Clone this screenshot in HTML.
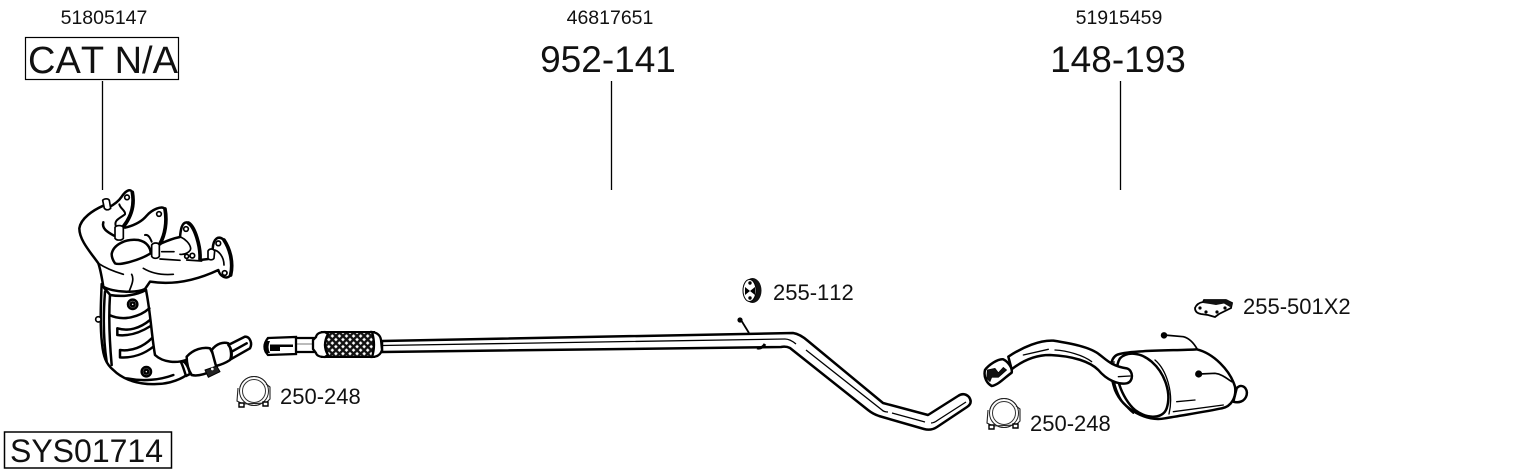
<!DOCTYPE html>
<html><head><meta charset="utf-8"><style>
html,body{margin:0;padding:0;background:#fff}
svg{display:block}
text{font-family:"Liberation Sans",sans-serif;fill:#111;font-kerning:none}
.z{fill:none;stroke:#000;stroke-width:7.500;stroke-linecap:round;stroke-linejoin:round}
.f{fill:#fff}
.t{font-size:22px}
.b{font-size:37px}
</style></head><body>
<svg width="1530" height="474" viewBox="0 0 1530 474" xmlns="http://www.w3.org/2000/svg">
<defs>
<pattern id="m" width="5" height="5" patternUnits="userSpaceOnUse" patternTransform="rotate(45)">
<rect width="5" height="5" fill="#111"/><rect x="1.300" y="1.300" width="2.600" height="2.600" fill="#fff"/>
</pattern>
<g id="clamp">
<circle cx="254" cy="391" r="14.500" fill="#fff" stroke="#222" stroke-width="1"/>
<path d="M238,388 L237,401 L243,404 L266,403 L270,399 L270,387 L266,384" fill="#fff" stroke="#222" stroke-width="1.100"/>
<circle cx="254" cy="391" r="14.500" fill="none" stroke="#222" stroke-width="1"/>
<circle cx="254" cy="391" r="11.500" fill="none" stroke="#333" stroke-width="1"/>
<path d="M239,403 h5 v4 h-5z M263,402 h5 v4 h-5z" fill="#fff" stroke="#000" stroke-width="1.400"/>
</g>
</defs>

<!-- labels -->
<text x="104" y="24" text-anchor="middle" style="font-size:19.500px">51805147</text>
<text x="610" y="24" text-anchor="middle" style="font-size:19.500px">46817651</text>
<text x="1119" y="24" text-anchor="middle" style="font-size:19.500px">51915459</text>
<rect x="25.500" y="37.500" width="153" height="42" fill="none" stroke="#000" stroke-width="1.200"/>
<text x="103" y="73" text-anchor="middle" style="font-size:38px">CAT N/A</text>
<text class="b" x="608" y="72" text-anchor="middle">952-141</text>
<text class="b" x="1118" y="72" text-anchor="middle">148-193</text>
<rect x="4.500" y="432" width="167" height="36" fill="none" stroke="#000" stroke-width="1.500"/>
<text x="86.500" y="462" text-anchor="middle" style="font-size:32px">SYS01714</text>
<path d="M102.500,81V190M611.500,81V190M1120.500,81V190" stroke="#000" stroke-width="1.300" fill="none"/>

<!-- catalyst -->
<g transform="translate(60,180) scale(.33333)" class="z">
<path class="f" d="M125,312 C122,380 120,440 126,490 C130,530 138,552 160,570 C190,600 240,615 290,612 C330,612 370,595 385,580 L378,540 C350,550 310,548 285,525 C275,470 272,400 258,330 Z"/>
<path d="M150,345 C190,352 230,345 258,330 M148,405 C190,425 240,410 268,385 M128,318 C140,335 148,340 150,345 M150,345 C145,420 150,500 155,555 M135,335 C130,400 130,480 140,545"/>
<path d="M172,445 C205,455 240,445 270,420 M172,465 C210,470 245,455 272,438 M172,445 L172,465"/>
<path d="M180,510 C215,515 250,500 275,475 M180,532 C220,535 255,520 280,500 M180,510 L180,532"/>
<circle class="f" cx="218" cy="373" r="14"/><circle cx="218" cy="373" r="6"/>
<circle class="f" cx="259" cy="575" r="14"/><circle cx="259" cy="575" r="6"/>
<circle class="f" cx="115" cy="418" r="8" style="stroke-width:5"/>
<path d="M200,595 C250,605 300,600 340,585"/>
<!-- outlet -->
<path class="f" d="M362,545 C375,540 385,560 390,582 L378,588 C372,570 368,555 362,545Z"/>
<path class="f" d="M380,530 C400,508 430,500 450,505 C465,530 470,550 470,565 C445,580 415,590 395,585 C385,570 380,550 380,530Z"/>
<path class="f" d="M455,510 C470,490 490,485 505,490 C515,510 515,530 510,540 C495,550 480,555 468,558Z"/>
<path class="f" d="M505,495 L555,470 C570,470 578,490 570,505 L512,538 C518,525 515,505 505,495Z"/>
<path d="M515,515 L560,490"/>
<path d="M435,570 L470,558 L480,575 L445,592Z" fill="#222" style="stroke-width:3"/>
<circle cx="457" cy="567" r="4" fill="#fff" stroke="none"/>
</g>

<!-- manifold -->
<g transform="translate(70,185) scale(.33333)" class="z">
<path class="f" d="M100,62 C70,75 32,100 28,130 C28,165 60,200 85,235 C92,255 95,275 100,305 C130,322 200,325 225,312 L240,290 C290,298 360,295 445,255 C450,275 470,285 482,270 C490,235 482,195 462,165 C445,150 430,160 428,192 L415,222 L390,225 C392,185 375,120 350,112 C335,112 332,135 330,156 C310,160 285,170 272,176 C285,150 292,110 285,72 C275,60 245,75 230,92 C215,110 190,122 165,128 L160,125 C180,100 195,65 187,22 C180,8 165,20 155,35 C145,50 130,60 115,68 Z"/>
<path d="M138,125 C130,105 150,100 165,88 C168,78 150,70 148,58" style="stroke-width:6"/>
<path d="M100,112 C95,130 110,140 132,152"/>
<path class="f" d="M125,207 C130,178 170,160 205,165 C230,170 242,188 242,205 C210,225 150,242 135,235 C128,225 125,215 125,207Z"/>
<path d="M225,150 C235,148 240,158 245,170" style="stroke-width:6"/>
<path d="M275,200 L312,200 M270,222 L330,226 M395,228 L350,225 M85,235 C110,252 140,262 160,268 M220,250 C250,268 285,270 310,268 M185,268 C195,285 180,310 178,318" style="stroke-width:5"/>
<path d="M332,156 C345,162 360,175 362,190 C362,200 345,210 330,208" style="stroke-width:5"/>
<path d="M430,195 C445,195 462,215 462,240" style="stroke-width:5"/>
<!-- outer flange thickening -->
<path d="M187,22 C195,65 180,100 160,125 M285,72 C292,110 285,150 270,176 M355,114 C375,125 392,185 390,222 M462,165 C482,195 490,235 482,270" style="stroke-width:11"/>
<g style="stroke-width:5">
<circle class="f" cx="171" cy="37" r="7"/><circle class="f" cx="267" cy="87" r="7"/><circle class="f" cx="348" cy="132" r="7"/><circle class="f" cx="445" cy="175" r="7"/><circle class="f" cx="464" cy="264" r="7"/><circle class="f" cx="367" cy="212" r="7"/><circle class="f" cx="350" cy="214" r="6"/>
<path class="f" d="M98,46 C103,40 115,40 118,46 L122,70 C115,76 108,76 103,70Z"/>
<path class="f" d="M135,127 C140,120 155,120 160,127 L160,160 C155,167 140,167 135,160Z"/>
<path class="f" d="M245,180 C250,172 265,172 268,180 L268,214 C262,222 250,222 245,214Z"/>
<path class="f" d="M414,198 C418,190 430,190 434,198 L432,220 C428,226 418,226 414,220Z"/>
</g>
</g>

<!-- clamps -->
<use href="#clamp"/>
<use href="#clamp" transform="translate(750,22)"/>
<text class="t" x="280" y="404">250-248</text>
<text class="t" x="1030" y="431">250-248</text>

<!-- front pipe -->
<path d="M382,341 L793,333 Q800,334 808,341 L883,403 L928,415 L958,396 Q964,392 969,397 Q973,403 967,407 L937,427 Q931,431 924,429 L879,416 Q873,414 868,410 L790,348 Q786,346 781,347 L382,352 Z" fill="#fff" stroke="#000" stroke-width="2.500" stroke-linejoin="round"/>
<path d="M382,345.500 L785,339 Q790,339 796,344 M806,350 L882,410 Q884,412 888,412 M892,413 L925,422 M931,423 Q934,423 938,420 L966,402" fill="none" stroke="#000" stroke-width="1.300"/>
<path d="M749,333 L741,320" stroke="#000" stroke-width="1.800" fill="none"/><circle cx="740" cy="320" r="2.600" fill="#000"/>
<path d="M757,348 Q762,349 765,344" stroke="#000" stroke-width="2.800" fill="none"/>
<!-- front inlet + flex -->
<path d="M296,338 H318 M296,352 H318" fill="none" stroke="#000" stroke-width="2.300"/>
<path d="M296,344 H316" stroke="#777" stroke-width="1"/>
<path d="M268,338 L296,337 L296,354 L268,355 Q261,347 268,338Z" fill="#fff" stroke="#000" stroke-width="2.300"/>
<path d="M265,341 Q262,347 265,353 L270,353 Q267,347 270,341Z M270,344.500 H293 V347 H280 V351 H270Z" fill="#000"/>
<rect x="322" y="332" width="52" height="25" fill="url(#m)" stroke="#000" stroke-width="2"/>
<path d="M325,332 Q317,332 316,337 L313,340 L313,349 L316,353 Q317,357 325,357 L328,355 Q322,345 328,334Z" fill="#fff" stroke="#000" stroke-width="2.300"/>
<path d="M372,332 Q380,333 381,340 L382,350 Q380,357 372,357 Q376,345 372,332Z" fill="#fff" stroke="#000" stroke-width="2.300"/>

<!-- hanger 255-112 -->
<ellipse cx="752.500" cy="290.500" rx="9" ry="12.500" fill="#111"/>
<ellipse cx="749.500" cy="290.500" rx="6.500" ry="11" fill="#fff" stroke="#000"/>
<circle cx="750" cy="283" r="1.700" fill="#000"/><circle cx="750" cy="298" r="1.700" fill="#000"/>
<path d="M745,287 L750,291 L745,295Z M755,287 L750,291 L755,295Z" fill="#000"/>
<text class="t" x="773" y="300">255-112</text>

<!-- hanger 255-501X2 -->
<path d="M1195,308 Q1197,303 1203,302 L1204,300 L1226,300 L1232,303 L1231,308 L1219,314 L1215,317 L1208,315 L1201,314 Q1195,313 1195,308Z" fill="#fff" stroke="#000" stroke-width="1.800"/>
<path d="M1203,303 L1205,299.500 H1227 L1233,304 L1230,307 L1224,303.500 L1216,305 L1210,304Z" fill="#111"/>
<circle cx="1200" cy="308" r="1.600" fill="#000"/><circle cx="1206" cy="312" r="1.600" fill="#000"/><circle cx="1217" cy="312" r="1.600" fill="#000"/><circle cx="1225" cy="308" r="1.600" fill="#000"/>
<text class="t" x="1243" y="314">255-501X2</text>

<!-- rear silencer -->
<g transform="translate(970,290) scale(.33333)" class="z">
<path class="f" d="M800,295 C815,278 835,295 830,315 C825,335 805,340 790,335Z"/>
<path class="f" d="M440,195 C470,180 620,182 680,178 C730,190 780,240 795,290 C800,320 785,350 755,355 C710,365 640,375 585,385 C530,395 460,360 435,300 C420,255 415,210 440,195Z"/>
<path d="M450,205 C470,185 510,185 545,215 C585,250 605,310 590,355 C580,385 535,390 495,360 C455,325 425,245 450,205Z"/>
<path d="M432,215 C422,270 445,335 490,370 M555,210 C590,240 612,310 597,372" style="stroke-width:4"/>
<path d="M620,335 L675,330 M610,365 L760,345" style="stroke-width:4"/>
<path d="M582,135 L640,140 C660,145 672,160 682,178" style="stroke-width:5"/>
<circle cx="582" cy="136" r="6" fill="#000"/>
<path d="M688,252 L735,250 C755,252 770,265 785,275" style="stroke-width:5"/>
<circle cx="686" cy="252" r="7" fill="#000"/>
<!-- tail pipe -->
<path class="f" d="M115,200 C160,170 210,150 250,152 C300,160 360,170 390,195 C410,210 425,228 470,235 C490,240 492,275 470,280 C445,285 410,270 385,240 C360,215 310,198 240,195 C200,195 160,210 125,238 Z"/>
<path d="M160,195 L235,178 M255,180 C290,182 340,195 365,215 M445,260 L480,258" style="stroke-width:4"/>
<path class="f" d="M45,240 C55,225 85,205 100,208 C115,215 128,235 125,248 C105,262 85,285 65,288 C50,280 40,260 45,240Z"/>
<path d="M52,240 L75,235 L85,248 L100,232 L110,240 L85,262 L65,262 L60,275 L50,265Z" fill="#111" style="stroke-width:2"/>
</g>
</svg>
</body></html>
